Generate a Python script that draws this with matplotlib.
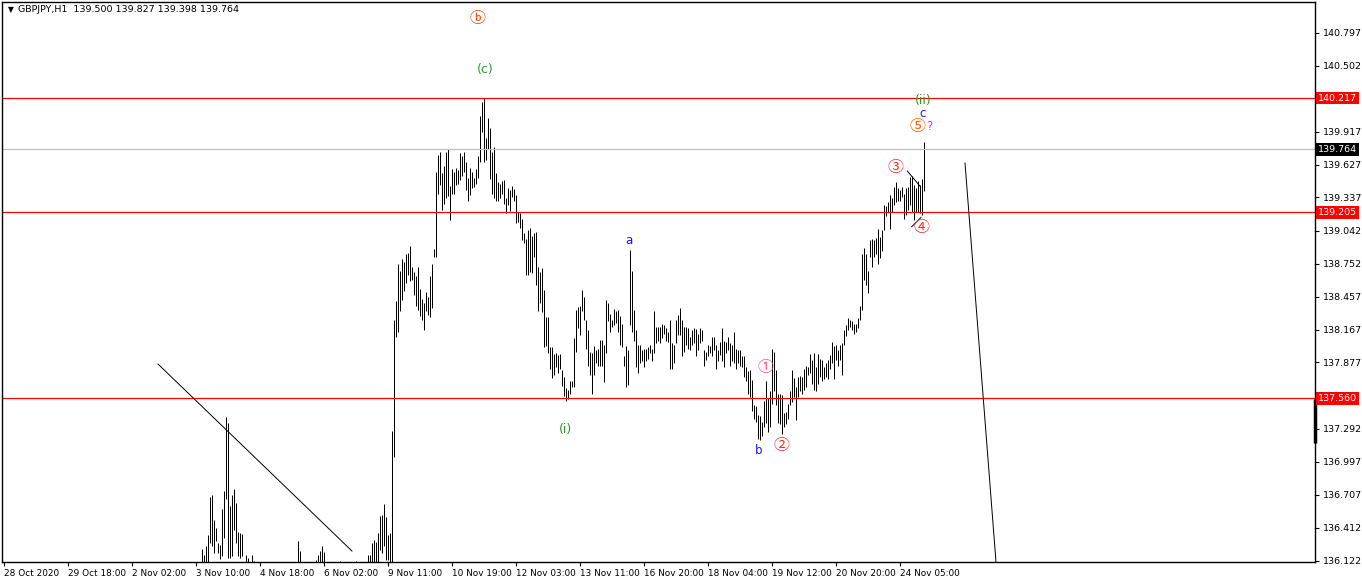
import numpy as np
import matplotlib
matplotlib.use("Agg")
import matplotlib.pyplot as plt

plt.rcParams['font.family'] = ['DejaVu Sans', 'Noto Sans CJK JP']

NA = np.nan

# hourly bars GBPJPY H1, bar index counted from the "28 Oct 2020" tick
first_bar = 99

highs = ([136.23, 136.17, 136.25, 136.35, 136.69, 136.70, 136.48, 136.41, 136.28, 136.26,
          136.58, 136.74, 137.39, 137.34, 136.61, 136.70, 136.76, 136.63, 136.38, 136.37,
          136.36, NA, 136.17, 136.15, NA, 136.17, 136.12]
         + [NA] * 21 + [136.30, 136.21] + [NA] * 7
         + [136.13, 136.17, 136.21, 136.25, 136.20] + [NA] * 7
         + [136.12] + [NA] * 7 + [136.12] + [NA] * 5
         + [136.17, 136.17, 136.28, 136.31, 136.29, 136.37, 136.52, 136.53, 136.62, 136.51,
            136.35, 136.37, 137.27]
         + [138.25, 138.42, 138.75, 138.69, 138.79, 138.77, 138.84, 138.85, 138.91, 138.72,
            138.68, 138.64, 138.72, 138.53, 138.44, 138.40, 138.50, 138.46, 138.64, 138.75,
            138.88, 139.56, 139.71, 139.74, 139.55, 139.62, 139.74, 139.77, 139.44, 139.59,
            139.56, 139.60, 139.58, 139.73, 139.70, 139.74, 139.65, 139.51, 139.60, 139.56,
            139.51, 139.59, 139.70, 140.06, 140.18, 140.217, 139.86, 140.04, 139.95, 139.74,
            139.78, 139.55, 139.47, 139.46, 139.48, 139.49, 139.33, 139.42, 139.40, 139.44,
            139.41, 139.36, 139.21, 139.20, 139.15, 139.02, 138.97, 139.05, 139.07, 139.00,
            139.02, 139.03, 138.72, 138.68, 138.71, 138.52, 138.28, 138.28, 138.01, 138.01,
            137.95, 137.96, 137.94, 137.95, 137.81, 137.75, 137.65, 137.63, 137.71, 137.71,
            138.09, 138.34, 138.37, 138.38, 138.52, 138.46, 138.25, 138.16, 137.97, 137.96,
            138.02, 137.99, 138.00, 138.08, 138.08, 138.03, 138.43, 138.40, 138.31, 138.25,
            138.35, 138.33, 138.34, 138.29]
         + [138.22, 137.93, 138.02, 137.99, 138.87, 138.69, 138.34, 138.16, 138.03, 138.03,
            137.99, 138.00, 138.00, 138.01, 138.03, 138.00, 138.33, 138.19, 138.19, 138.19,
            138.22, 138.21, 138.18, 138.15, 138.25, 138.05, 138.03, 138.25, 138.30, 138.36,
            138.25, 138.19, 138.19, 138.18, 138.10, 138.16, 138.18, 138.17, 138.13, 138.18,
            138.16, 137.99, 137.97, 138.03, 138.02, 138.10, 138.10, 138.03, 137.99, 138.06,
            138.18, 138.07, 138.06, 138.10, 138.05, 138.03, 138.15, 138.00, 137.99, 137.99,
            137.93, 137.93, 137.84, 137.80, 137.81, 137.72, 137.50, 137.49, 137.41, 137.40,
            137.35, 137.54, 137.71, 137.56, 137.62, 138.00, 137.97, 137.81, 137.60, 137.60,
            137.59, 137.43, 137.44, 137.51, 137.62, 137.81]
         + [137.74, 137.66, 137.75, 137.76, 137.75, 137.82, 137.85, 137.84, 137.95, 137.90,
            137.96, 137.84, 137.95, 137.91, 137.90, 137.84, 137.87, 137.90, 137.94, 138.06,
            138.02, 138.03, 137.99, 138.03, 138.05, 138.16, 138.21, 138.27, 138.25, 138.24,
            138.22, 138.22, 138.27, 138.38, 138.84, 138.89, 138.84, 138.69, 138.96, 138.97,
            138.96, 138.98, 139.06, 138.99, 139.05, 139.27, 139.26, 139.30, 139.36, 139.33,
            139.43, 139.47, 139.42, 139.40, 139.43, 139.37, 139.42, 139.43, 139.52, 139.53,
            139.45, 139.42, 139.48, 139.45, 139.50, 139.827])

lows = ([136.00, 136.00, 136.00, 136.00, 136.28, 136.25, 136.19, 136.30, 136.19, 136.14,
         136.16, 136.32, 136.67, 136.15, 136.15, 136.16, 136.39, 136.28, 136.16, 136.15,
         136.16, NA, 136.00, 136.00, NA, 136.00, 136.00]
        + [NA] * 21 + [136.00, 136.00] + [NA] * 7
        + [136.00, 136.00, 136.00, 136.00, 136.00] + [NA] * 7
        + [136.00] + [NA] * 7 + [136.00] + [NA] * 5
        + [136.00, 136.00, 136.00, 136.00, 136.00, 136.00, 136.22, 136.19, 136.25, 136.13,
           136.13, 136.00, 136.00]
        + [137.04, 138.10, 138.15, 138.33, 138.43, 138.51, 138.58, 138.65, 138.60, 138.61,
           138.47, 138.38, 138.34, 138.29, 138.25, 138.16, 138.33, 138.30, 138.28, 138.36,
           138.81, 138.81, 139.37, 139.45, 139.23, 139.28, 139.33, 139.35, 139.14, 139.37,
           139.37, 139.45, 139.46, 139.49, 139.53, 139.56, 139.40, 139.31, 139.36, 139.42,
           139.43, 139.46, 139.51, 139.65, 139.92, 139.65, 139.67, 139.77, 139.50, 139.37,
           139.33, 139.31, 139.31, 139.33, 139.37, 139.28, 139.20, 139.27, 139.22, 139.34,
           139.31, 139.11, 139.12, 139.07, 138.96, 138.93, 138.65, 138.65, 138.68, 138.67,
           138.81, 138.56, 138.33, 138.40, 138.32, 138.01, 138.02, 137.96, 137.82, 137.74,
           137.77, 137.84, 137.78, 137.82, 137.67, 137.58, 137.54, 137.55, 137.60, 137.66,
           137.66, 137.97, 138.18, 138.12, 138.33, 138.25, 138.00, 137.85, 137.77, 137.60,
           137.77, 137.87, 137.85, 137.85, 137.85, 137.70, 137.96, 138.24, 138.15, 138.19,
           138.21, 138.23, 138.15, 138.03]
        + [138.01, 137.85, 137.66, 137.68, 138.21, 138.15, 138.07, 137.84, 137.78, 137.87,
           137.89, 137.84, 137.89, 137.91, 137.96, 137.89, 137.96, 138.05, 138.07, 138.05,
           138.09, 138.13, 138.07, 138.06, 137.82, 137.82, 137.87, 138.05, 138.12, 138.12,
           137.93, 137.97, 138.03, 138.00, 137.99, 138.03, 138.05, 137.93, 137.99, 138.05,
           138.07, 137.85, 137.90, 137.93, 137.96, 137.93, 137.99, 137.82, 137.89, 137.94,
           137.89, 137.84, 137.96, 137.99, 137.85, 137.89, 137.87, 137.82, 137.87, 137.85,
           137.84, 137.75, 137.71, 137.60, 137.57, 137.45, 137.38, 137.35, 137.20, 137.19,
           137.23, 137.31, 137.34, 137.26, 137.31, 137.51, 137.62, 137.50, 137.34, 137.33,
           137.24, 137.31, 137.33, 137.38, 137.50, 137.53]
        + [137.57, 137.37, 137.57, 137.62, 137.60, 137.63, 137.66, 137.77, 137.78, 137.69,
           137.63, 137.62, 137.69, 137.75, 137.71, 137.73, 137.75, 137.73, 137.82, 137.87,
           137.73, 137.90, 137.85, 137.90, 137.77, 138.03, 138.11, 138.16, 138.19, 138.16,
           138.13, 138.15, 138.18, 138.25, 138.34, 138.61, 138.56, 138.49, 138.81, 138.72,
           138.81, 138.84, 138.75, 138.80, 138.86, 139.05, 139.17, 139.21, 139.06, 139.21,
           139.27, 139.30, 139.31, 139.31, 139.34, 139.15, 139.18, 139.23, 139.27, 139.21,
           139.14, 139.21, 139.21, 139.20, 139.18, 139.398])

# horizontal levels
red_levels = [140.217, 139.205, 137.560]
last_price = 139.764

# axis ticks
tick_prices = [140.797, 140.502, 139.917, 139.627, 139.337, 139.042, 138.752, 138.457,
               138.167, 137.877, 137.292, 136.997, 136.707, 136.412, 136.122]
tick_bars = [0, 32, 64, 96, 128, 160, 192, 224, 256, 288, 320, 352, 384, 416, 448]
tick_dates = ['28 Oct 2020', '29 Oct 18:00', '2 Nov 02:00', '3 Nov 10:00', '4 Nov 18:00',
              '6 Nov 02:00', '9 Nov 11:00', '10 Nov 19:00', '12 Nov 03:00', '13 Nov 11:00',
              '16 Nov 20:00', '18 Nov 04:00', '19 Nov 12:00', '20 Nov 20:00', '24 Nov 05:00']

# drawn trend lines (bar, price) pairs
trend_lines = [
    ([77.25, 174.25], [137.863, 136.208]),
    ([480.75, 496.25], [139.642, 136.11]),
    ([451.9, 458.6], [139.571, 139.430]),
    ([454.1, 458.75], [139.078, 139.161]),
]

# wave labels
wave_text = ['ⓑ', '(c)', '(i)', 'a', 'b', '①', '②', '③', '④', '⑤', '?', 'c', '(ii)']
wave_x = [236.75, 240.75, 281.25, 312.75, 377.75, 380.75, 388.75, 446.25, 458.75,
          457.25, 462.75, 459.75, 459.75]
wave_y = [140.925, 140.474, 137.288, 138.952, 137.102, 137.828, 137.146, 139.606,
          139.075, 139.969, 139.969, 140.084, 140.199]
wave_color = ['#FF4500', '#2A9A2A', '#2A9A2A', '#1414FF', '#1414FF', '#FF5C8A', '#FF3030',
              '#FF3030', '#FF3030', '#FF6000', '#FF3399', '#1414FF', '#2A9A2A']
wave_size = [11.5, 9, 9, 8.5, 8.5, 11.5, 11.5, 11.5, 11.5, 11.5, 8.5, 8.5, 9]
circled = set('ⓑ①②③④⑤')

W, H = 1362, 584
fig = plt.figure(figsize=(W / 100, H / 100), dpi=100)
fig.patch.set_facecolor('white')
ax = fig.add_axes([2 / W, 22 / H, 1313 / W, 560 / H])

bars = np.arange(first_bar, first_bar + len(highs))
ax.vlines(bars, lows, highs, colors='black', linewidth=0.72, snap=True)

for lvl in red_levels:
    ax.axhline(lvl, color='#FF0000', linewidth=0.9)
ax.axhline(last_price, color='#C0C0C0', linewidth=0.9)

for xs, ys in trend_lines:
    ax.plot(xs, ys, color='black', linewidth=0.7)

for s, x, y, c, fs in zip(wave_text, wave_x, wave_y, wave_color, wave_size):
    fam = ['Noto Sans CJK JP', 'DejaVu Sans'] if s in circled else ['DejaVu Sans']
    ax.text(x, y, s, color=c, fontsize=fs, ha='center', va='center', family=fam)

ax.set_xlim(-0.75, 655.75)
ax.set_ylim(136.111, 141.067)

ax.yaxis.tick_right()
ax.set_yticks(tick_prices)
ax.set_yticklabels([f'{p:.3f}' for p in tick_prices])
ax.set_xticks(tick_bars)
ax.set_xticklabels(tick_dates, ha='left')
ax.tick_params(axis='both', direction='out', length=3, width=0.8, pad=2)
ax.tick_params(axis='x', labelsize=6.4)
ax.tick_params(axis='y', labelsize=6.8, pad=3)
for sp in ax.spines.values():
    sp.set_linewidth(1.0)
    sp.set_color('black')

ytrans = ax.get_yaxis_transform()
for lvl in red_levels:
    ax.text(1.0025, lvl, f'{lvl:.3f}', transform=ytrans, ha='left', va='center',
            color='white', fontsize=6.8,
            bbox=dict(boxstyle='square,pad=0.2', fc='#FF0000', ec='none'))
ax.text(1.0025, last_price, f'{last_price:.3f}', transform=ytrans, ha='left', va='center',
        color='white', fontsize=6.8,
        bbox=dict(boxstyle='square,pad=0.2', fc='black', ec='none'))
ax.plot([1.0, 1.0], [137.164, 137.553], transform=ytrans, color='black', linewidth=2.5,
        clip_on=False, solid_capstyle='butt')

fig.text(8 / W, 1 - 10 / H, '▼', fontsize=5.5, va='center', ha='left')
fig.text(18 / W, 1 - 10 / H, 'GBPJPY,H1  139.500 139.827 139.398 139.764',
         fontsize=6.8, va='center', ha='left')

fig.savefig('out.png', dpi=100)
